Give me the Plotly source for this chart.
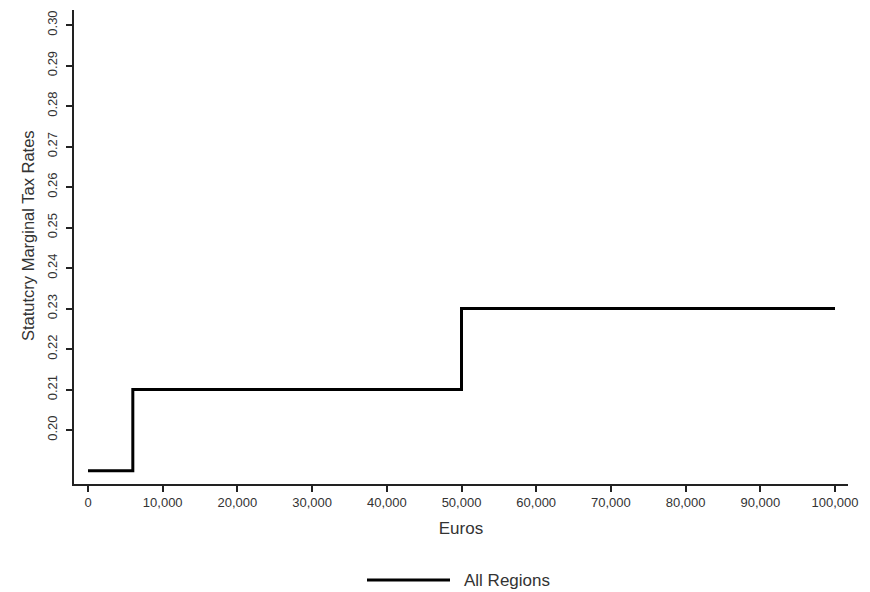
import plotly.graph_objects as go

# Data
income_thresholds = [0, 6000, 50000, 100000]
marginal_rates = [0.19, 0.21, 0.23, 0.23]
series_name = "All Regions"

x_ticks = [0, 10000, 20000, 30000, 40000, 50000, 60000, 70000, 80000, 90000, 100000]
x_tick_labels = ["0", "10,000", "20,000", "30,000", "40,000", "50,000",
                 "60,000", "70,000", "80,000", "90,000", "100,000"]
y_ticks = [0.20, 0.21, 0.22, 0.23, 0.24, 0.25, 0.26, 0.27, 0.28, 0.29, 0.30]
y_tick_labels = ["%.2f" % v for v in y_ticks]

FONT = "Liberation Sans, Arial, sans-serif"
TXT = "#333333"

fig = go.Figure()
fig.add_trace(go.Scatter(
    x=income_thresholds, y=marginal_rates, mode="lines", line_shape="hv",
    line=dict(color="black", width=3), name=series_name, showlegend=False,
))

fig.update_layout(
    width=870, height=592,
    margin=dict(l=74, r=22, t=10, b=108),
    plot_bgcolor="white", paper_bgcolor="white",
    font=dict(family=FONT, color=TXT),
    xaxis=dict(
        range=[-1874, 101740], tickmode="array", tickvals=x_ticks, ticktext=x_tick_labels,
        showgrid=False, zeroline=False, showline=True, linecolor="#222", linewidth=1.5,
        ticks="outside", ticklen=6, tickwidth=1.5, tickcolor="#222",
        tickfont=dict(size=13, color=TXT, family=FONT),
        title=dict(text="Euros", font=dict(size=17, color=TXT, family=FONT), standoff=13),
    ),
    yaxis=dict(
        range=[0.1867, 0.3037], tickmode="array", tickvals=y_ticks, ticktext=y_tick_labels,
        showgrid=False, zeroline=False, showline=True, linecolor="#222", linewidth=1.5,
        ticks="outside", ticklen=6, tickwidth=1.5, tickcolor="#222", tickangle=-90,
        tickfont=dict(size=13, color=TXT, family=FONT), ticklabelstandoff=4,
    ),
    annotations=[
        dict(text="Statutcry Marginal Tax Rates", xref="paper", yref="paper",
             x=(28 - 74) / 774, y=1 - (236 - 10) / 474, textangle=-90,
             showarrow=False, xanchor="center", yanchor="middle",
             font=dict(size=16.5, color=TXT, family=FONT)),
        dict(text=series_name, xref="paper", yref="paper",
             x=(462 - 74) / 774, y=(484 - 580) / 474, xanchor="left", yanchor="middle",
             showarrow=False, font=dict(size=17, color=TXT, family=FONT)),
    ],
    shapes=[
        dict(type="line", xref="paper", yref="paper",
             x0=(367 - 74) / 774, x1=(450 - 74) / 774,
             y0=(484 - 580) / 474, y1=(484 - 580) / 474,
             line=dict(color="black", width=3)),
    ],
)

fig.write_html("out.html")
